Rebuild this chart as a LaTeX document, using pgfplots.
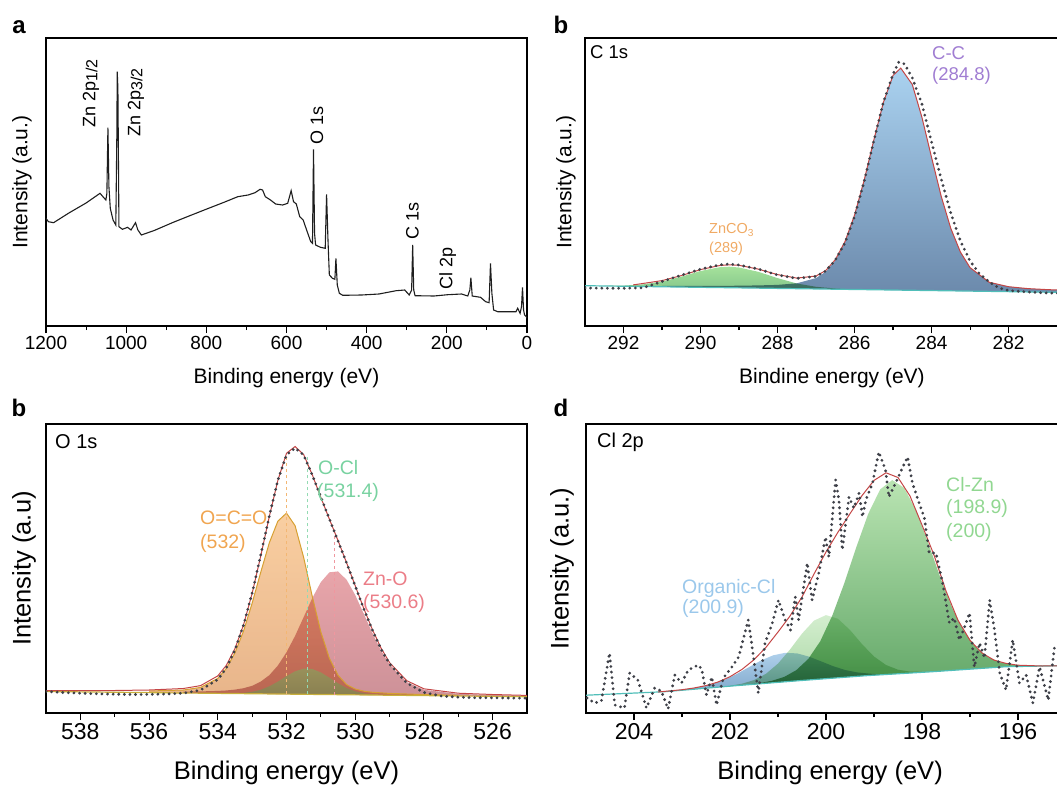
\documentclass[border=0pt]{standalone}
\usepackage{fontspec}
\setmainfont{Liberation Sans}
\usepackage{pgfplots}
\pgfplotsset{compat=1.18}

\definecolor{linec}{RGB}{30,30,30}
\definecolor{rawc}{RGB}{62,64,72}
\definecolor{envc}{RGB}{196,70,70}
\definecolor{bgc}{RGB}{80,190,185}
\definecolor{bgo}{RGB}{200,175,60}
\definecolor{goldc}{RGB}{215,160,50}
\definecolor{ccTop}{RGB}{170,210,240}
\definecolor{ccBot}{RGB}{108,138,172}
\definecolor{znTop}{RGB}{165,226,155}
\definecolor{znBot}{RGB}{135,200,140}
\definecolor{ocoTop}{RGB}{248,198,145}
\definecolor{ocoBot}{RGB}{228,168,118}
\definecolor{znoTop}{RGB}{232,165,170}
\definecolor{znoBot}{RGB}{205,145,152}
\definecolor{oclTop}{RGB}{120,175,95}
\definecolor{oclBot}{RGB}{100,150,80}
\definecolor{clznTop}{RGB}{185,228,178}
\definecolor{clznBot}{RGB}{100,168,105}
\definecolor{lgTop}{RGB}{212,238,207}
\definecolor{lgBot}{RGB}{170,215,165}
\definecolor{orgTop}{RGB}{175,208,235}
\definecolor{orgBot}{RGB}{130,170,205}
\definecolor{labCC}{RGB}{160,125,210}
\definecolor{labZn}{RGB}{240,170,100}
\definecolor{labOCO}{RGB}{240,165,80}
\definecolor{labOCl}{RGB}{120,210,160}
\definecolor{labZnO}{RGB}{235,125,135}
\definecolor{labClZn}{RGB}{145,215,145}
\definecolor{labOrg}{RGB}{155,200,235}

\pgfplotsset{
 xps/.style={
  scale only axis, x dir=reverse, ytick=\empty, xtick pos=left,
  tick align=outside, major tick length=7pt, minor tick length=4pt,
  axis line style={line width=1.2pt, black},
  tick style={line width=1.1pt, black},
  minor x tick num=1,
  /pgf/number format/assume math mode=true,
  /pgf/number format/1000 sep={},
  xlabel style={anchor=center},
  ylabel style={anchor=center},
 },
 smallf/.style={tick label style={font=\fontsize{19}{19}\selectfont},
   label style={font=\fontsize{21}{21}\selectfont}},
 bigf/.style={tick label style={font=\fontsize{23}{23}\selectfont},
   label style={font=\fontsize{25.5}{25.5}\selectfont}},
 rawd/.style={rawc, line width=3.1pt, line cap=round, dash pattern=on 0pt off 5.6pt},
 comp/.style={draw=none, blend mode=multiply},
}

\begin{document}
\begin{tikzpicture}

% ---------------- panel a ----------------
\begin{axis}[xps, smallf, at={(46pt,-38pt)}, anchor=north west,
  width=481pt, height=288pt, xmin=0, xmax=1200, ymin=0, ymax=288,
  xtick={0,200,...,1200},
  xlabel={Binding energy (eV)}, ylabel={Intensity (a.u.)},
  xlabel style={at={(axis description cs:0.5,-0.1806)}},
  ylabel style={at={(axis description cs:-0.0499,0.5)}}]
\addplot[linec, line width=1.1pt] coordinates {
(1200,107.7) (1194,104.3) (1181.1,103.3) (1142.5,113.1) (1100,123) (1065.2,132.7)
(1056.6,128.7) (1050.6,126) (1048.1,132.7) (1045.5,198.3) (1043,139.3) (1039.6,117.7)
(1032.7,106) (1025.8,101) (1023.2,192.7) (1022.3,254.3) (1020.6,237.7) (1018,99.3)
(1009.3,96.7) (996.4,98.7) (987.9,96) (976.7,103.3) (970.7,96) (962.1,91) (930,95.5)
(884.8,103.3) (841.8,110.2) (798.9,117) (755.9,123.7) (721.6,129.3) (695.8,131)
(678.6,133.3) (665.7,136.7) (659.7,136) (652.8,129.3) (640,126) (627.1,122) (609.9,121)
(597,122.7) (588.4,135.3) (582.4,124.3) (575.5,122) (567,109.3) (558.4,106) (549.8,96)
(539.5,84.3) (535.2,82.7) (532.6,176.7) (530,92.7) (527.4,81) (515.4,78.7) (503.4,77.7)
(500,131.7) (496.5,86) (493.1,51) (485.3,47.7) (479.3,46.7) (476.7,67.7) (473.3,41)
(468.2,32.7) (459.6,30.7) (412.3,31) (369.4,32) (326.4,35.3) (305,36) (293.8,31)
(287.8,36) (285.2,81) (282.6,36) (279.2,30.3) (231.9,30) (197.6,31.3) (163.2,32)
(147.7,30) (142.6,36) (140,48.3) (136.6,30) (116,28.7) (103.1,24.3) (94.5,23.3)
(91.1,62.7) (87.6,32.7) (83.3,16) (73,14.3) (27.5,14.3) (23.2,17.7) (17.2,12.7)
(13.7,19.3) (11.2,38.7) (8.6,16) (6,11) (1.7,9.3) (0,7.7)};
\end{axis}

% ---------------- panel b (C 1s) ----------------
\begin{axis}[xps, smallf, at={(585pt,-38pt)}, anchor=north west,
  width=474pt, height=288pt, xmin=280.69, xmax=293, ymin=0, ymax=288,
  xtick={282,284,...,292},
  xlabel={Bindine energy (eV)}, ylabel={Intensity (a.u.)},
  xlabel style={at={(axis description cs:0.521,-0.1806)}},
  ylabel style={at={(axis description cs:-0.0401,0.5)}}]
% C-C component
\addplot[comp, top color=ccTop, bottom color=ccBot] coordinates {
(291,40.2) (290.5,40.1) (290,40.1) (289.5,40.1) (289,40.3) (288.5,40.6) (288,41.1)
(287.5,42.7) (287,47.9) (286.75,54.2) (286.5,65.6) (286.25,83.9) (286,110.7)
(285.75,145.8) (285.5,185.8) (285.25,223.7) (285,250.6) (284.8,257.9) (284.5,241.5)
(284.25,208.7) (284,168.6) (283.75,129.8) (283.5,97.6) (283.25,73.9) (283,58.4)
(282.5,43.7) (282,39.3) (281.5,37.4) (281,36.4) (280.6,35.8) (280.6,33.6) (291,39.2)} -- cycle;
% ZnCO3 component
\addplot[comp, top color=znTop, bottom color=znBot] coordinates {
(292.5,40.2) (292,40.4) (291.5,41.6) (291,44.4) (290.5,49.3) (290,55.0) (289.5,58.8)
(289.25,59.3) (289,58.5) (288.5,54.2) (288,47.9) (287.5,42.5) (287,39.2) (286.5,37.5)
(286.25,37.0)} -- cycle;
% background
\addplot[bgc, line width=1.2pt] coordinates {(293,40.3) (280.6,33.6)};
% envelope
\addplot[envc, line width=1pt] coordinates {
(291.75,41.1) (291.5,42.5) (291,45.4) (290.5,50.4) (290,56.4) (289.5,60.5) (289.25,61.2)
(289,60.7) (288.5,56.9) (288,51.4) (287.5,47.9) (287,50.0) (286.75,55.4) (286.5,66.3)
(286.25,84.2) (286,110.9) (285.75,145.8) (285.5,185.8) (285.25,223.7) (285,250.6)
(284.8,257.9) (284.5,241.5) (284.25,208.7) (284,168.6) (283.75,129.8) (283.5,97.6)
(283.25,73.9) (283,58.4) (282.5,43.7) (282,39.3) (281.5,37.4) (281,36.4) (280.6,35.8)};
% raw data
\addplot[rawd] coordinates {
(293,38.0) (292.5,37.8) (292,37.7) (291.5,38.2) (291.3,40.5) (291,44.5) (290.5,50.8)
(290,56.8) (289.5,61.2) (289.25,62.0) (289,61.0) (288.5,57.0) (288,51.0) (287.5,47.6)
(287,49.6) (286.75,55.0) (286.5,65.8) (286.25,83.0) (286,109.5) (285.75,144.5)
(285.5,185) (285.25,224) (285,252) (284.85,264) (284.7,262) (284.5,248) (284.25,222)
(284,184) (283.75,147) (283.5,113) (283.25,85) (283,65) (282.75,52) (282.5,44)
(282.25,38) (282,35.5) (281.5,34) (281,33) (280.6,32.7)};
\end{axis}

% ---------------- panel c (O 1s) ----------------
\begin{axis}[xps, bigf, at={(46pt,-424pt)}, anchor=north west,
  width=481pt, height=289pt, xmin=525, xmax=539, ymin=0, ymax=289,
  xtick={526,528,...,538},
  xlabel={Binding energy (eV)}, ylabel={Intensity (a.u)},
  xlabel style={at={(axis description cs:0.5,-0.2076)}},
  ylabel style={at={(axis description cs:-0.0457,0.5)}}]
% Zn-O
\addplot[comp, top color=znoTop, bottom color=znoBot] coordinates {
(535,21.45) (534.5,21.6) (534,22.1) (533.75,22.55) (533.5,23.4) (533.25,24.8) (533,27.2)
(532.75,31.4) (532.5,37.8) (532.25,47.5) (532,60.7) (531.75,77.1) (531.5,95.9)
(531.25,114.9) (531,130.9) (530.75,140.7) (530.5,141.6) (530.25,133.2) (530,118.0)
(529.75,99.2) (529.5,80.0) (529.25,62.7) (529,48.6) (528.5,30.9) (528,23.2) (527,19.1)
(526,18.0) (525,17.2) (525,16.3) (535,20.0)} -- cycle;
% O=C=O
\addplot[comp, fill opacity=0.85, top color=ocoTop, bottom color=ocoBot] coordinates {
(536,20.4) (536,22.0) (535,23.0) (534.5,25.6) (534,34.6) (533.75,44.6) (533.5,60.15)
(533.25,82.0) (533,109.8) (532.75,140.7) (532.5,170.2) (532.25,191.9) (532,199.9)
(531.75,187.3) (531.5,155.5) (531.25,116.6) (531,81.1) (530.75,54.5) (530.5,37.7)
(530.25,28.4) (530,24.0) (529.75,21.8) (529.5,20.7) (529,19.6) (528,18.4) (527,17.7)
(527,17.0)} -- cycle;
% O-Cl
\addplot[draw=none, top color=oclTop, bottom color=oclBot, fill opacity=0.55] coordinates {
(533.5,19.75) (533.25,20.2) (533,21.2) (532.75,23.2) (532.5,26.7) (532.25,31.4) (532,36.9)
(531.75,41.7) (531.5,44.4) (531.25,44.0) (531,40.6) (530.75,35.3) (530.5,29.7)
(530.25,24.9) (530,21.7) (529.75,19.7) (529.5,18.65) (529.25,18.1)} -- cycle;
% O=C=O outline
\addplot[goldc, line width=1pt] coordinates {
(536,22.0) (535,23.0) (534.5,25.6) (534,34.6) (533.75,44.6) (533.5,60.15)
(533.25,82.0) (533,109.8) (532.75,140.7) (532.5,170.2) (532.25,191.9) (532,199.9)
(531.75,187.3) (531.5,155.5) (531.25,116.6) (531,81.1) (530.75,54.5) (530.5,37.7)
(530.25,28.4) (530,24.0) (529.75,21.8) (529.5,20.7) (529,19.6) (528,18.4) (527,17.7)};
% background
\addplot[bgo, line width=1.2pt] coordinates {(539,21.5) (525,16.3)};
% peak markers
\addplot[labOCO!80!white, dashed, line width=0.6pt] coordinates {(532,18.9) (532,256)};
\addplot[labOCl!80!white, dashed, line width=0.6pt] coordinates {(531.4,18.7) (531.4,257)};
\addplot[labZnO!80!white, dashed, line width=0.6pt] coordinates {(530.6,18.3) (530.6,178)};
% envelope
\addplot[envc, line width=1pt] coordinates {
(539,22.5) (538,22.4) (537,22.5) (536,23.0) (535,24.5) (534.5,27.4) (534,37.1)
(533.75,47.7) (533.5,64.4) (533.25,88.2) (533,119.6) (532.75,156.9) (532.5,196.5)
(532.25,232.8) (532,259.7) (531.75,266.5) (531.5,258.4) (531.25,238.3) (531,215.6)
(530.75,193.7) (530.5,172.4) (530.25,150.1) (530,127.3) (529.75,104.5) (529.5,83.4)
(529.25,65.1) (529,50.4) (528.5,32.3) (528,24.2) (527,19.8) (526,18.5) (525,17.6)};
% raw data
\addplot[rawd] coordinates {
(539,21.5) (538.5,20.5) (538,19.8) (537.5,19.2) (537,18.8) (536.5,18.5) (536,18.6)
(535.5,19.0) (535,19.8) (534.5,23.0) (534,33.5) (533.75,45) (533.5,63) (533.25,88)
(533,120) (532.75,158) (532.5,197) (532.25,233) (532,258) (531.75,265) (531.5,258)
(531.25,238) (531,216) (530.75,194) (530.5,172) (530.25,150) (530,127) (529.75,104)
(529.5,83) (529.25,64) (529,49) (528.5,30) (528,20.5) (527.5,17) (527,15.8)
(526.5,15.3) (526,15.2) (525.5,15.0) (525,14.8)};
\end{axis}

% ---------------- panel d (Cl 2p) ----------------
\begin{axis}[xps, bigf, at={(586pt,-424pt)}, anchor=north west,
  width=474pt, height=289pt, xmin=195.125, xmax=205, ymin=0, ymax=289,
  xtick={196,198,...,204},
  xlabel={Binding energy (eV)}, ylabel={Intensity (a.u.)},
  xlabel style={at={(axis description cs:0.515,-0.2076)}},
  ylabel style={at={(axis description cs:-0.0506,0.5)}}]
% Organic-Cl
\addplot[comp, top color=orgTop, bottom color=orgBot] coordinates {
(203.35,21.4) (203.1,22.7) (202.85,24.2) (202.6,26.3) (202.35,29.3) (202.1,33.6)
(201.85,39.3) (201.6,46.0) (201.35,52.6) (201.1,57.7) (200.85,60.2) (200.6,59.6)
(200.35,56.3) (200.1,51.6) (199.85,46.8) (199.6,43.0) (199.35,40.6) (199.1,39.4)
(198.85,38.5) (198.6,39.1) (198.6,39.0) (199.17,37.3) (200.57,32.3) (201.96,27)
(203.35,21.3)} -- cycle;
% 200 component
\addplot[comp, top color=lgTop, bottom color=lgBot] coordinates {
(202,27.3) (201.75,29.3) (201.5,32.9) (201.25,39.2) (201,49.4) (200.75,63.5) (200.5,79.4)
(200.25,92.4) (200,97.9) (199.75,94.2) (199.5,83.0) (199.25,68.9) (199,56.5) (198.75,48.0)
(198.5,43.3) (198.25,41.4) (198,41.2) (198,40.7) (199.17,37.3) (200.57,32.3) (202,26.8)} -- cycle;
% Cl-Zn
\addplot[comp, top color=clznTop, bottom color=clznBot] coordinates {
(201.62,28.6) (201.37,30.0) (201.12,32.3) (200.87,36.1) (200.62,42.8) (200.37,54.0)
(200.12,71.7) (199.87,97.3) (199.62,129.6) (199.37,165.6) (199.12,199.2) (198.87,223.7)
(198.62,232.9) (198.37,225.1) (198.12,202.1) (197.87,170.0) (197.62,135.7) (197.37,105.1)
(197.12,81.3) (196.87,65.3) (196.62,55.8) (196.37,50.8) (196.12,48.5) (195.87,47.4)
(195.62,47.2) (195.37,47.1) (196.25,46.3) (197.78,41.3) (199.17,37.3) (200.57,32.3)
(201.62,28.3)} -- cycle;
% background
\addplot[bgc, line width=1.2pt] coordinates {
(205,17.8) (203.36,21.3) (201.96,27) (200.57,32.3) (199.17,37.3) (197.78,41.3)
(196.25,46.3) (195.1,47.3)};
% envelope
\addplot[envc, line width=1pt] coordinates {
(203.5,21.0) (203,23.3) (202.75,25.0) (202.5,27.4) (202.25,31.0) (202,36.3) (201.75,43.6)
(201.5,53.3) (201.25,65.7) (201,81.0) (200.75,97) (200.5,116) (200.25,139) (200,161)
(199.75,180.9) (199.5,199.3) (199.25,217.4) (199,232.6) (198.75,240.2) (198.5,235.5)
(198.25,217.0) (198,188.0) (197.75,158) (197.5,122) (197.25,92.7) (197,72.7) (196.75,60.0)
(196.5,52.9) (196.25,49.6) (196,47.8) (195.5,47.0) (195.1,47.3)};
% raw data
\addplot[rawd] coordinates {
(204.98,15) (204.82,10) (204.68,12) (204.51,60) (204.40,8) (204.20,5) (204.09,40)
(203.92,33) (203.74,5) (203.57,25) (203.43,22) (203.29,4) (203.15,38) (203.01,30)
(202.87,43) (202.66,48) (202.59,44) (202.49,18) (202.38,36) (202.28,8) (202.14,35)
(201.96,46) (201.82,56) (201.62,93) (201.55,70) (201.41,20) (201.27,70) (201.13,88)
(200.99,113) (200.85,93) (200.74,83) (200.64,116) (200.57,93) (200.39,150) (200.29,113)
(200.15,140) (200.01,176) (199.94,156) (199.80,233) (199.73,213) (199.66,163) (199.52,216)
(199.42,205) (199.31,220) (199.24,196) (199.17,213) (199.03,230) (198.90,261) (198.76,243)
(198.69,216) (198.55,230) (198.41,245) (198.30,256) (198.20,230) (198.06,210) (197.95,195)
(197.85,160) (197.71,160) (197.57,130) (197.43,90) (197.33,95) (197.22,73) (197.12,85)
(197.01,100) (196.91,46) (196.80,70) (196.70,55) (196.59,113) (196.49,83) (196.38,40)
(196.25,23) (196.11,73) (195.97,30) (195.83,38) (195.69,10) (195.55,46) (195.37,13)
(195.23,70)};
\end{axis}

% ---------------- annotations ----------------
\begin{scope}[every node/.style={inner sep=0pt}]
\node[font=\fontsize{24}{24}\selectfont\bfseries] at (19pt,-27pt) {a};
\node[font=\fontsize{24}{24}\selectfont\bfseries] at (561pt,-25pt) {b};
\node[font=\fontsize{24}{24}\selectfont\bfseries] at (19pt,-408pt) {b};
\node[font=\fontsize{24}{24}\selectfont\bfseries] at (561pt,-408pt) {d};
% panel a peak labels
\node[font=\fontsize{18}{18}\selectfont, rotate=90, anchor=west] at (91pt,-128pt) {Zn 2p\raisebox{-0.2ex}{\fontsize{16}{16}\selectfont 1/2}};
\node[font=\fontsize{18}{18}\selectfont, rotate=90, anchor=west] at (136pt,-137pt) {Zn 2p\raisebox{-0.2ex}{\fontsize{16}{16}\selectfont 3/2}};
\node[font=\fontsize{18}{18}\selectfont, rotate=90, anchor=west] at (317pt,-145pt) {O 1s};
\node[font=\fontsize{18}{18}\selectfont, rotate=90, anchor=west] at (412.5pt,-240pt) {C 1s};
\node[font=\fontsize{18}{18}\selectfont, rotate=90, anchor=west] at (447.7pt,-290pt) {Cl 2p};
% panel b
\node[font=\fontsize{18.5}{18.5}\selectfont, anchor=west] at (590pt,-52pt) {C 1s};
\node[font=\fontsize{18.5}{18.5}\selectfont, anchor=west, text=labCC] at (932pt,-53pt) {C-C};
\node[font=\fontsize{18.5}{18.5}\selectfont, anchor=west, text=labCC] at (932pt,-76pt) {(284.8)};
\node[font=\fontsize{14.5}{14.5}\selectfont, anchor=west, text=labZn] at (709pt,-230pt) {ZnCO\textsubscript{3}};
\node[font=\fontsize{14.5}{14.5}\selectfont, anchor=west, text=labZn] at (709pt,-249pt) {(289)};
% panel c
\node[font=\fontsize{20}{20}\selectfont, anchor=west] at (55pt,-442pt) {O 1s};
\node[font=\fontsize{19.5}{19.5}\selectfont, anchor=west, text=labOCO] at (200pt,-518pt) {O=C=O};
\node[font=\fontsize{19.5}{19.5}\selectfont, anchor=west, text=labOCO] at (200pt,-543pt) {(532)};
\node[font=\fontsize{19.5}{19.5}\selectfont, anchor=west, text=labOCl] at (318pt,-468pt) {O-Cl};
\node[font=\fontsize{19.5}{19.5}\selectfont, anchor=west, text=labOCl] at (317pt,-492pt) {(531.4)};
\node[font=\fontsize{19.5}{19.5}\selectfont, anchor=west, text=labZnO] at (363pt,-579pt) {Zn-O};
\node[font=\fontsize{19.5}{19.5}\selectfont, anchor=west, text=labZnO] at (363pt,-603pt) {(530.6)};
% panel d
\node[font=\fontsize{20}{20}\selectfont, anchor=west] at (597pt,-442pt) {Cl 2p};
\node[font=\fontsize{19.5}{19.5}\selectfont, anchor=west, text=labClZn] at (946pt,-485pt) {Cl-Zn};
\node[font=\fontsize{19.5}{19.5}\selectfont, anchor=west, text=labClZn] at (946pt,-508pt) {(198.9)};
\node[font=\fontsize{19.5}{19.5}\selectfont, anchor=west, text=labClZn] at (946pt,-532pt) {(200)};
\node[font=\fontsize{19.5}{19.5}\selectfont, anchor=west, text=labOrg] at (682pt,-588pt) {Organic-Cl};
\node[font=\fontsize{19.5}{19.5}\selectfont, anchor=west, text=labOrg] at (682pt,-608pt) {(200.9)};
\end{scope}

\pgfresetboundingbox
\path[use as bounding box] (0pt,0pt) rectangle (1057pt,-789pt);
\end{tikzpicture}
\end{document}
